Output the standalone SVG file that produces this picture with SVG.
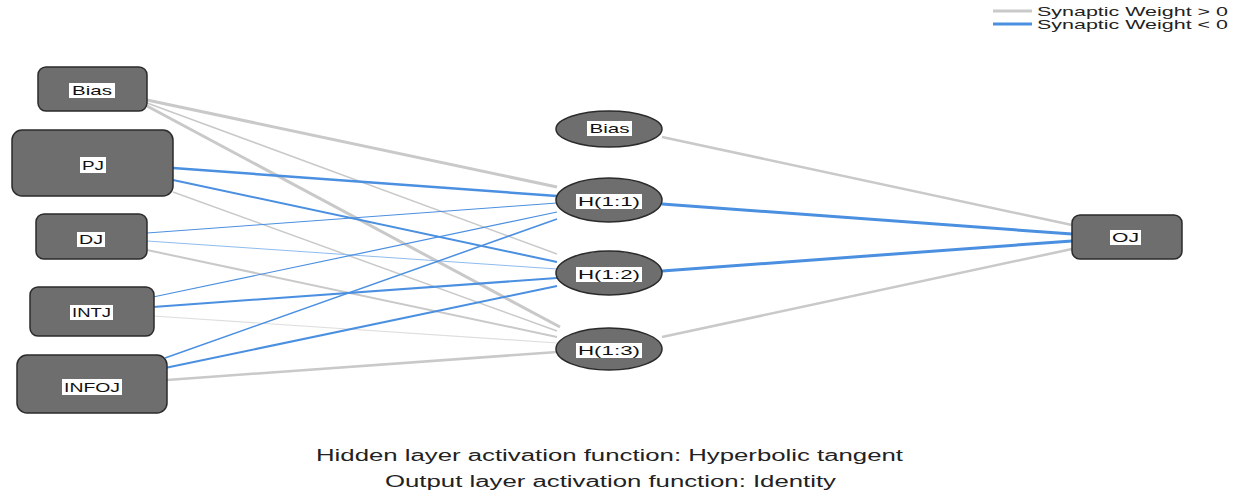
<svg xmlns="http://www.w3.org/2000/svg" width="1239" height="495" viewBox="0 0 1239 495">
<style>
.node{fill:#6e6e6e;stroke:#2b2b2b;stroke-width:1.5}
.lblbg{fill:#ffffff}
.lbl{font-family:"Liberation Sans",Arial,sans-serif;font-size:13px;fill:#111;text-anchor:middle}
.pos{stroke:#c9c9c9;fill:none}
.neg{stroke:#4a8fe0;fill:none}
.cap{font-family:"Liberation Sans",Arial,sans-serif;font-size:16px;fill:#222}
.leg{font-family:"Liberation Sans",Arial,sans-serif;font-size:13px;fill:#222}
</style>
<rect width="1239" height="495" fill="#ffffff"/>
<g id="legend">
<line x1="993" y1="11" x2="1032" y2="11" class="pos" stroke-width="3"/>
<line x1="993" y1="24" x2="1032" y2="24" class="neg" stroke-width="3"/>
<text class="leg" x="1037" y="16" textLength="191" lengthAdjust="spacingAndGlyphs">Synaptic Weight &gt; 0</text>
<text class="leg" x="1037" y="29" textLength="191" lengthAdjust="spacingAndGlyphs">Synaptic Weight &lt; 0</text>
</g>
<g id="connectors">
<line x1="147" y1="100" x2="557" y2="187" class="pos" stroke-width="3"/>
<line x1="147" y1="103" x2="557" y2="254" class="pos" stroke-width="1.5"/>
<line x1="147" y1="106" x2="560" y2="327" class="pos" stroke-width="3"/>
<line x1="173" y1="168" x2="557" y2="196" class="neg" stroke-width="2.5"/>
<line x1="173" y1="180" x2="557" y2="262" class="neg" stroke-width="2"/>
<line x1="173" y1="192" x2="557" y2="331" class="pos" stroke-width="1.5"/>
<line x1="147" y1="233" x2="557" y2="203" class="neg" stroke-width="1"/>
<line x1="147" y1="241" x2="557" y2="269" stroke="#8fbbee" stroke-width="1"/>
<line x1="147" y1="250" x2="557" y2="337" class="pos" stroke-width="2"/>
<line x1="153" y1="297" x2="557" y2="212" class="neg" stroke-width="1.2"/>
<line x1="153" y1="307" x2="557" y2="278" class="neg" stroke-width="2"/>
<line x1="153" y1="316" x2="557" y2="343" stroke="#dedede" stroke-width="1.2"/>
<line x1="165" y1="358" x2="557" y2="219" class="neg" stroke-width="1.5"/>
<line x1="165" y1="368" x2="557" y2="286" class="neg" stroke-width="2"/>
<line x1="167" y1="380" x2="557" y2="352" class="pos" stroke-width="2.5"/>
<line x1="662" y1="137" x2="1072" y2="225" class="pos" stroke-width="2.5"/>
<line x1="662" y1="204" x2="1072" y2="234" class="neg" stroke-width="3"/>
<line x1="662" y1="271" x2="1072" y2="241" class="neg" stroke-width="3"/>
<line x1="662" y1="337" x2="1072" y2="249" class="pos" stroke-width="2.5"/>
</g>
<g id="in_bias">
<rect class="node" x="38" y="67" width="109" height="44" rx="8"/>
<rect class="lblbg" x="69" y="83" width="46" height="15"/>
<text class="lbl" x="92" y="95" textLength="40" lengthAdjust="spacingAndGlyphs">Bias</text>
</g>
<g id="in_pj">
<rect class="node" x="12" y="130" width="161" height="66" rx="10"/>
<rect class="lblbg" x="80" y="157" width="26" height="16"/>
<text class="lbl" x="93" y="170" textLength="22" lengthAdjust="spacingAndGlyphs">PJ</text>
</g>
<g id="in_dj">
<rect class="node" x="36" y="214" width="111" height="45" rx="8"/>
<rect class="lblbg" x="77" y="232" width="28" height="15"/>
<text class="lbl" x="91" y="244" textLength="24" lengthAdjust="spacingAndGlyphs">DJ</text>
</g>
<g id="in_intj">
<rect class="node" x="30" y="287" width="124" height="49" rx="8"/>
<rect class="lblbg" x="70" y="305" width="43" height="15"/>
<text class="lbl" x="91.5" y="317" textLength="39" lengthAdjust="spacingAndGlyphs">INTJ</text>
</g>
<g id="in_infoj">
<rect class="node" x="17" y="355" width="150" height="58" rx="10"/>
<rect class="lblbg" x="62" y="379" width="60" height="16"/>
<text class="lbl" x="92" y="392" textLength="56" lengthAdjust="spacingAndGlyphs">INFOJ</text>
</g>
<g id="h_bias">
<ellipse class="node" cx="609" cy="129" rx="53" ry="18"/>
<rect class="lblbg" x="587" y="121" width="45" height="15"/>
<text class="lbl" x="609.5" y="133" textLength="40" lengthAdjust="spacingAndGlyphs">Bias</text>
</g>
<g id="h11">
<ellipse class="node" cx="609" cy="200" rx="53" ry="22"/>
<rect class="lblbg" x="576" y="194" width="66" height="15"/>
<text class="lbl" x="609" y="206" textLength="62" lengthAdjust="spacingAndGlyphs">H(1:1)</text>
</g>
<g id="h12">
<ellipse class="node" cx="609" cy="273" rx="53" ry="22"/>
<rect class="lblbg" x="576" y="267" width="66" height="15"/>
<text class="lbl" x="609" y="279" textLength="62" lengthAdjust="spacingAndGlyphs">H(1:2)</text>
</g>
<g id="h13">
<ellipse class="node" cx="609" cy="349" rx="53" ry="21"/>
<rect class="lblbg" x="576" y="343" width="66" height="15"/>
<text class="lbl" x="609" y="355" textLength="62" lengthAdjust="spacingAndGlyphs">H(1:3)</text>
</g>
<g id="out_oj">
<rect class="node" x="1072" y="215" width="110" height="44" rx="8"/>
<rect class="lblbg" x="1110" y="230" width="31" height="15"/>
<text class="lbl" x="1125.5" y="242" textLength="27" lengthAdjust="spacingAndGlyphs">OJ</text>
</g>
<g id="captions">
<text class="cap" x="316" y="461" textLength="587" lengthAdjust="spacingAndGlyphs">Hidden layer activation function: Hyperbolic tangent</text>
<text class="cap" x="385" y="487" textLength="451" lengthAdjust="spacingAndGlyphs">Output layer activation function: Identity</text>
</g>
</svg>
